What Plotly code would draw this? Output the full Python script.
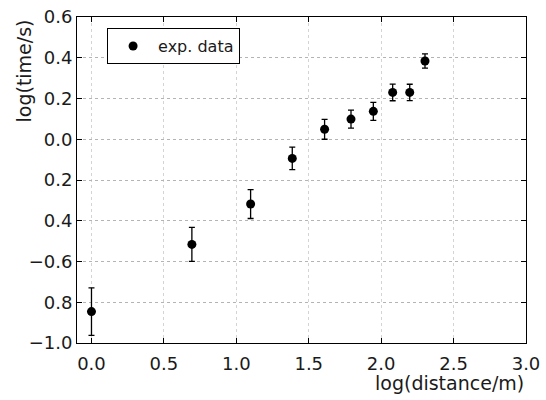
import numpy as np
import plotly.graph_objects as go

# data
distance_m = [1, 2, 3, 4, 5, 6, 7, 8, 9, 10]
log_distance = [float(np.log(d)) for d in distance_m]
log_time = [-0.846, -0.516, -0.318, -0.094, 0.049, 0.099, 0.137, 0.230, 0.230, 0.384]
log_time_err = [0.117, 0.083, 0.071, 0.055, 0.049, 0.044, 0.044, 0.041, 0.040, 0.035]
log_distance_err = [0, 0, 0, 0, 0, 0, 0, 0, 0, 0]

x_ticks = [0.0, 0.5, 1.0, 1.5, 2.0, 2.5, 3.0]
x_ticktext = ["0.0", "0.5", "1.0", "1.5", "2.0", "2.5", "3.0"]
y_ticks = [0.6, 0.4, 0.2, 0.0, -0.2, -0.4, -0.6, -0.8, -1.0]
y_ticktext = ["0.6", "0.4", "0.2", "0.0", "0.2", "0.4", "\u22120.6", "0.8", "\u22121.0"]

FONT = "DejaVu Sans"
TXT = "#1a1a1a"

fig = go.Figure()
fig.add_trace(go.Scatter(
    x=log_distance, y=log_time, mode="markers", name="exp. data",
    marker=dict(color="black", size=9, symbol="circle"),
    error_y=dict(type="data", array=log_time_err, visible=True,
                 color="black", thickness=1.3, width=3),
    error_x=dict(type="data", array=log_distance_err, visible=True,
                 color="black", thickness=1.3, width=3),
))

axis_common = dict(
    showline=True, linecolor="black", linewidth=1, mirror="ticks",
    ticks="inside", ticklen=5, tickcolor="black",
    showgrid=True, griddash="dot", gridwidth=1,
    zeroline=False, automargin=False,
    tickfont=dict(family=FONT, size=18, color=TXT),
)

fig.update_layout(
    width=546, height=400,
    margin=dict(l=77, r=20, t=17, b=57),
    paper_bgcolor="white", plot_bgcolor="white",
    font=dict(family=FONT, color=TXT),
    showlegend=True,
    legend=dict(x=0.067, y=0.966, xanchor="left", yanchor="top",
                bordercolor="black", borderwidth=1, bgcolor="white",
                font=dict(family=FONT, size=16, color=TXT),
                itemwidth=40, tracegroupgap=0),
    xaxis=dict(range=[-0.1, 3.0], tickvals=x_ticks, ticktext=x_ticktext,
               ticklabelstandoff=4, gridcolor="#d4d4d4", **axis_common),
    yaxis=dict(range=[-1.0, 0.6], tickvals=y_ticks, ticktext=y_ticktext,
               ticklabelstandoff=0, gridcolor="#b4b4b4", **axis_common),
)

fig.add_annotation(text="log(distance/m)", xref="paper", yref="paper",
                   x=1.0, y=-0.123, xanchor="right", yanchor="middle",
                   showarrow=False, font=dict(family=FONT, size=19, color=TXT))
fig.add_annotation(text="log(time/s)", xref="paper", yref="paper",
                   x=-0.147, y=1.0, xanchor="left", yanchor="top", textangle=-90,
                   showarrow=False, font=dict(family=FONT, size=19, color=TXT))

fig.write_html("out.html", config={"displayModeBar": False},
               post_script="document.body.style.margin='0';document.body.style.overflow='hidden';")
